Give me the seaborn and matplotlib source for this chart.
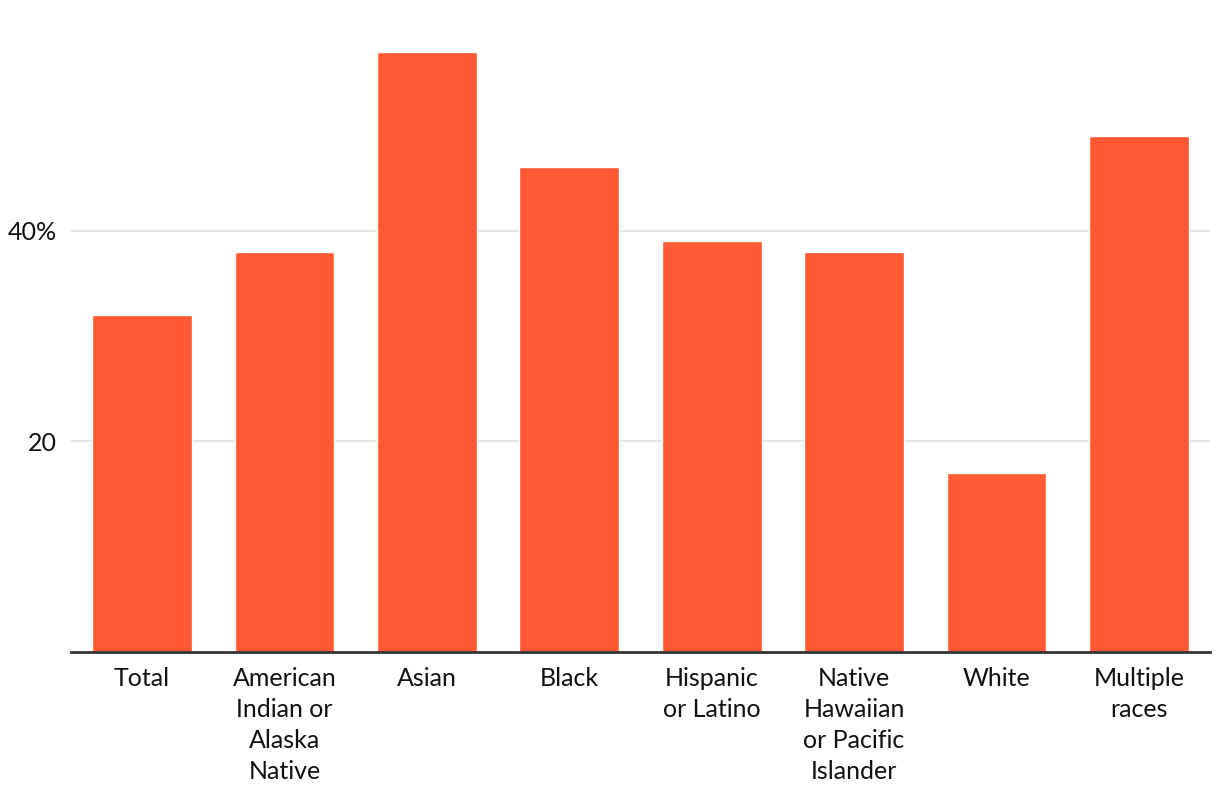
import matplotlib
matplotlib.use("Agg")
import matplotlib.pyplot as plt
import seaborn as sns
import pandas as pd

categories = [
    "Total",
    "American\nIndian or\nAlaska\nNative",
    "Asian",
    "Black",
    "Hispanic\nor Latino",
    "Native\nHawaiian\nor Pacific\nIslander",
    "White",
    "Multiple\nraces",
]
values = [32, 38, 57, 46, 39, 38, 17, 49]
ytick_values = [20, 40]
ytick_labels = ["20", "40%"]

df = pd.DataFrame({"group": categories, "pct": values})

sns.set_theme(style="white")
plt.rcParams["font.family"] = ["Lato", "DejaVu Sans"]

fig = plt.figure(figsize=(12.2, 8.08), dpi=100)
ax = fig.add_axes([71 / 1220, 156 / 808, (1210 - 71) / 1220, (652 - 20) / 808])

sns.barplot(data=df, x="group", y="pct", color="#FF5833", saturation=1,
            width=0.7, ax=ax)

ax.set_xlim(-0.5, len(categories) - 0.5)
ax.set_ylim(0, 60)
ax.set_yticks(ytick_values)
ax.set_yticklabels(ytick_labels)
ax.yaxis.grid(True, color="#e3e3e3", linewidth=1.3)
ax.set_axisbelow(True)
ax.set_xlabel("")
ax.set_ylabel("")

for side in ["top", "right", "left"]:
    ax.spines[side].set_visible(False)
ax.spines["bottom"].set_color("#333333")
ax.spines["bottom"].set_linewidth(2)

ax.tick_params(axis="y", length=0, pad=10, labelsize=18, labelcolor="#111111")
ax.tick_params(axis="x", length=0, pad=11, labelsize=18, labelcolor="#111111")
for lbl in ax.get_xticklabels():
    lbl.set_linespacing(1.41)
    lbl.set_verticalalignment("top")
    lbl.set_horizontalalignment("center")

fig.savefig("out.png", dpi=100)
plt.close(fig)
